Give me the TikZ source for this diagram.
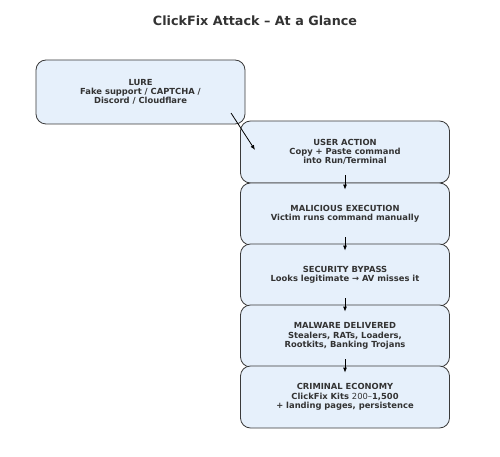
\documentclass[tikz,border=0pt]{standalone}
\usepackage{fontspec}
\setmainfont{DejaVu Sans}
\usetikzlibrary{arrows.meta}
\definecolor{boxfill}{HTML}{E6F0FB}
\definecolor{boxline}{HTML}{3A3A3A}
\definecolor{txt}{HTML}{333333}
\begin{document}
\begin{tikzpicture}[x=1bp,y=-1bp,
  stage/.style={draw=boxline,fill=boxfill,line width=0.8bp,rounded corners=10bp,
    minimum width=209bp,minimum height=62bp,inner sep=0pt,align=center,
    font=\fontsize{8.4}{9.3}\selectfont\bfseries,text=txt},
  flow/.style={-{Latex[length=5bp,width=4bp]},line width=0.8bp,draw=black}]
\useasboundingbox (0,0) rectangle (500,457);
\node[font=\fontsize{12.8}{14}\selectfont\bfseries,text=txt] (title) at (255,21) {ClickFix Attack – At a Glance};
\node[stage,minimum height=64bp] (lure) at (140.5,92) {LURE\\Fake support / CAPTCHA /\\Discord / Cloudflare};
\node[stage] (user) at (345,152) {USER ACTION\\Copy + Paste command\\into Run/Terminal};
\node[stage] (exec) at (345,214) {MALICIOUS EXECUTION\\Victim runs command manually};
\node[stage] (bypass) at (345,275) {SECURITY BYPASS\\Looks legitimate → AV misses it};
\node[stage] (malware) at (345,336) {MALWARE DELIVERED\\Stealers, RATs, Loaders,\\Rootkits, Banking Trojans};
\node[stage] (econ) at (345,397) {CRIMINAL ECONOMY\\ClickFix Kits {\mdseries 200–}1,500\\+ landing pages, persistence};
\coordinate (lurefrom) at (231,113);
\coordinate (userto) at (255,150);
\draw[flow] (lurefrom) -- (userto);
\draw[flow] ([yshift=8bp]user.south) -- ([yshift=-7bp]exec.north);
\draw[flow] ([yshift=8bp]exec.south) -- ([yshift=-7bp]bypass.north);
\draw[flow] ([yshift=8bp]bypass.south) -- ([yshift=-7bp]malware.north);
\draw[flow] ([yshift=8bp]malware.south) -- ([yshift=-7bp]econ.north);
\end{tikzpicture}
\end{document}
